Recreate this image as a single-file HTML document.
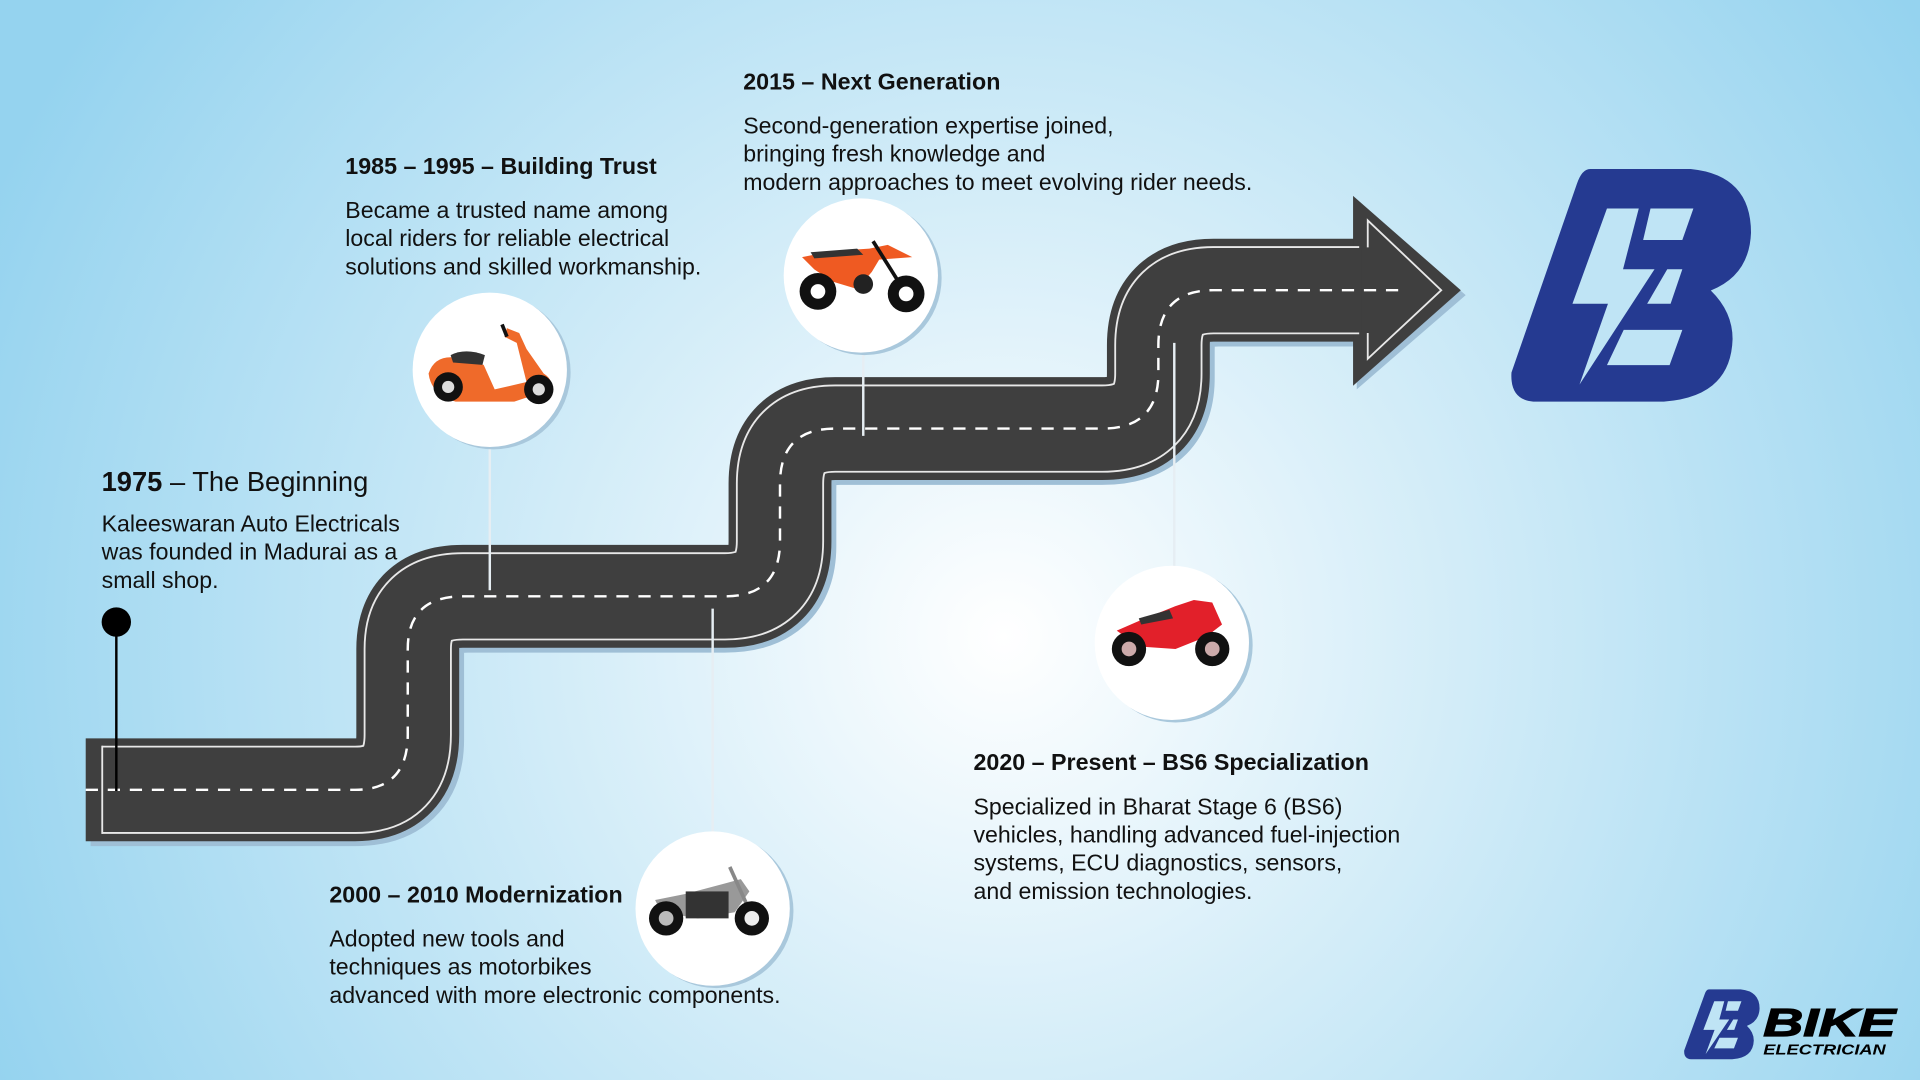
<!DOCTYPE html>
<html><head><meta charset="utf-8">
<style>
html,body{margin:0;padding:0;width:1920px;height:1080px;overflow:hidden;}
svg{display:block;}
text{font-family:"Liberation Sans",Arial,sans-serif;fill:#111;}
</style></head>
<body>
<svg width="1920" height="1080" viewBox="0 0 1568 882" xmlns="http://www.w3.org/2000/svg">
<defs>
<radialGradient id="bg" cx="820" cy="520" r="900" gradientUnits="userSpaceOnUse">
<stop offset="0" stop-color="#ffffff"/>
<stop offset="0.35" stop-color="#d9eff9"/>
<stop offset="1" stop-color="#95d3ef"/>
</radialGradient>
<g id="bigB">
<path d="M420,65 H720 Q900,75 900,170 Q895,240 780,265 Q845,300 845,345 Q840,440 640,448 H250 Q180,445 185,400 L380,90 Q395,65 420,65 Z" fill="#253a91"/>
<path d="M470,130 L565,130 L518,230 L612,230 L388,420 L473,287 L367,287 Z" fill="#bfe4f5"/>
<path d="M600,130 L728,130 L695,182 L578,182 Z" fill="#bfe4f5"/>
<path d="M650,230 L695,230 L660,287 L590,287 Z" fill="#bfe4f5"/>
<path d="M520,330 L695,330 L657,388 L470,388 Z" fill="#bfe4f5"/>
</g>
</defs>
<rect width="1568" height="882" fill="url(#bg)"/>

<!-- road -->
<g fill="none">
<path d="M74,649 H290 Q337,649 337,604 V534 Q337,491 382,491 H592 Q641,491 641,446 V399 Q641,354 686,354 H900 Q950,354 950,309 V286 Q950,241 995,241 H1109" stroke="#9fbfd6" stroke-width="84"/>
<path d="M70,645 H290 Q333,645 333,600 V530 Q333,487 378,487 H592 Q637,487 637,442 V395 Q637,350 682,350 H900 Q946,350 946,305 V282 Q946,237 991,237 H1110" stroke="#3f3f3f" stroke-width="84"/>
<polygon points="1108,165 1197,241 1108,318" fill="#9fbfd6"/>
<polygon points="1105,160 1193,237 1105,315" fill="#3f3f3f"/>
<path d="M83,645 H290 Q333,645 333,600 V530 Q333,487 378,487 H592 Q637,487 637,442 V395 Q637,350 682,350 H900 Q946,350 946,305 V282 Q946,237 991,237 H1110" stroke="#e8e8e8" stroke-width="72"/>
<path d="M82,645 H290 Q333,645 333,600 V530 Q333,487 378,487 H592 Q637,487 637,442 V395 Q637,350 682,350 H900 Q946,350 946,305 V282 Q946,237 991,237 H1112" stroke="#3f3f3f" stroke-width="69"/>
<line x1="83.5" y1="609" x2="83.5" y2="681" stroke="#e8e8e8" stroke-width="1.5"/>
<polyline points="1117,202 1117,180 1177,237 1117,293 1117,272" stroke="#e8e8e8" stroke-width="1.5"/>
<path d="M70,645 H290 Q333,645 333,600 V530 Q333,487 378,487 H592 Q637,487 637,442 V395 Q637,350 682,350 H900 Q946,350 946,305 V282 Q946,237 991,237 H1145" stroke="#fff" stroke-width="2" stroke-dasharray="10 8"/>
</g>

<!-- connectors -->
<g stroke="#e6eef3" stroke-width="2">
<line x1="400" y1="365" x2="400" y2="482"/>
<line x1="705" y1="288" x2="705" y2="356"/>
<line x1="582" y1="497" x2="582" y2="680"/>
<line x1="959" y1="280" x2="959" y2="463"/>
</g>
<line x1="95" y1="508" x2="95" y2="646" stroke="#000" stroke-width="2"/>
<circle cx="95" cy="508" r="12" fill="#000"/>

<!-- circles -->
<g>
<circle cx="403" cy="304" r="63" fill="#a9c8dc"/><circle cx="400" cy="302" r="63" fill="#fff"/>
<circle cx="706" cy="227" r="63" fill="#a9c8dc"/><circle cx="703" cy="225" r="63" fill="#fff"/>
<circle cx="585" cy="744" r="63" fill="#a9c8dc"/><circle cx="582" cy="742" r="63" fill="#fff"/>
<circle cx="960" cy="527" r="63" fill="#a9c8dc"/><circle cx="957" cy="525" r="63" fill="#fff"/>
</g>

<!-- scooter -->
<g>
<path d="M350,305 Q355,290 372,292 L395,298 L404,318 L430,312 L422,280 L412,275 L414,268 L424,272 L430,285 L444,305 Q452,310 450,318 L420,328 L372,328 Q352,322 350,305 Z" fill="#ef6a2a"/>
<path d="M368,290 Q380,284 396,290 L394,298 L370,296 Z" fill="#333"/>
<circle cx="366" cy="316" r="12" fill="#111"/><circle cx="366" cy="316" r="5" fill="#ddd"/>
<circle cx="440" cy="318" r="12" fill="#111"/><circle cx="440" cy="318" r="5" fill="#ddd"/>
<line x1="410" y1="265" x2="414" y2="275" stroke="#111" stroke-width="3"/>
</g>
<!-- dirt bike -->
<g>
<path d="M655,210 L680,205 L710,203 L725,200 L745,210 L718,212 L712,222 L700,236 L680,230 L665,220 Z" fill="#ef5a22"/>
<path d="M662,206 L700,203 L705,208 L665,211 Z" fill="#333"/>
<line x1="713" y1="197" x2="740" y2="240" stroke="#111" stroke-width="3"/>
<circle cx="668" cy="238" r="15" fill="#111"/><circle cx="668" cy="238" r="6" fill="#fff"/>
<circle cx="740" cy="240" r="15" fill="#111"/><circle cx="740" cy="240" r="6" fill="#fff"/>
<circle cx="705" cy="232" r="8" fill="#222"/>
</g>
<!-- cruiser -->
<g>
<path d="M535,735 L560,730 L590,722 L605,718 L612,728 L600,745 L570,750 L540,745 Z" fill="#999"/>
<rect x="560" y="728" width="35" height="22" fill="#333"/>
<line x1="596" y1="708" x2="615" y2="750" stroke="#888" stroke-width="3"/>
<circle cx="544" cy="750" r="14" fill="#111"/><circle cx="544" cy="750" r="6" fill="#bbb"/>
<circle cx="614" cy="750" r="14" fill="#111"/><circle cx="614" cy="750" r="6" fill="#eee"/>
</g>
<!-- sport -->
<g>
<path d="M912,515 L935,505 L960,495 L975,490 L990,492 L998,510 L985,520 L960,530 L930,528 Z" fill="#e2202a"/>
<path d="M930,505 L955,498 L958,505 L932,510 Z" fill="#333"/>
<circle cx="922" cy="530" r="14" fill="#111"/><circle cx="922" cy="530" r="6" fill="#caa"/>
<circle cx="990" cy="530" r="14" fill="#111"/><circle cx="990" cy="530" r="6" fill="#caa"/>
</g>

<!-- logos -->
<use href="#bigB" transform="translate(1233,138) scale(0.2736,0.496) translate(-180,-65)"/>
<use href="#bigB" transform="translate(1375,808) scale(0.0861,0.149) translate(-180,-65)"/>
<text x="1440" y="846" font-size="32" font-weight="bold" font-style="italic" textLength="108" lengthAdjust="spacingAndGlyphs" stroke="#000" stroke-width="1" style="fill:#000">BIKE</text>
<text x="1440" y="861" font-size="12" font-weight="bold" font-style="italic" textLength="100" lengthAdjust="spacingAndGlyphs" style="fill:#000">ELECTRICIAN</text>

<!-- texts -->
<g font-size="18.9">
<text x="83" y="401" font-size="22.3"><tspan font-weight="bold">1975</tspan> – The Beginning</text>
<text x="83" y="434">Kaleeswaran Auto Electricals</text>
<text x="83" y="457">was founded in Madurai as a</text>
<text x="83" y="480">small shop.</text>

<text x="282" y="142" font-weight="bold" font-size="19">1985 – 1995 – Building Trust</text>
<text x="282" y="178">Became a trusted name among</text>
<text x="282" y="201">local riders for reliable electrical</text>
<text x="282" y="224">solutions and skilled workmanship.</text>

<text x="607" y="73" font-weight="bold" font-size="19">2015 – Next Generation</text>
<text x="607" y="109">Second-generation expertise joined,</text>
<text x="607" y="132">bringing fresh knowledge and</text>
<text x="607" y="155">modern approaches to meet evolving rider needs.</text>

<text x="269" y="737" font-weight="bold" font-size="19">2000 – 2010 Modernization</text>
<text x="269" y="773">Adopted new tools and</text>
<text x="269" y="796">techniques as motorbikes</text>
<text x="269" y="819">advanced with more electronic components.</text>

<text x="795" y="629" font-weight="bold" font-size="19">2020 – Present – BS6 Specialization</text>
<text x="795" y="665">Specialized in Bharat Stage 6 (BS6)</text>
<text x="795" y="688">vehicles, handling advanced fuel-injection</text>
<text x="795" y="711">systems, ECU diagnostics, sensors,</text>
<text x="795" y="734">and emission technologies.</text>
</g>
</svg>
</body></html>
